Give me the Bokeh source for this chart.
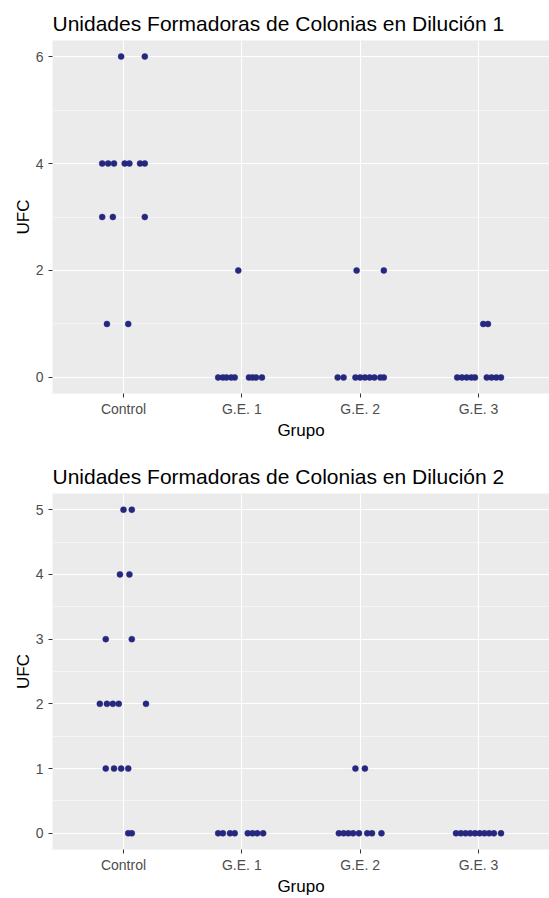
from bokeh.plotting import figure
from bokeh.layouts import column
from bokeh.models import Range1d, FixedTicker, SingleIntervalTicker, ColumnDataSource
from bokeh.embed import file_html
from bokeh.resources import INLINE

categories = ["Control", "G.E. 1", "G.E. 2", "G.E. 3"]

# Dilución 1: group index, UFC value, horizontal jitter
d1_group = [0, 0,
            0, 0, 0, 0, 0, 0, 0,
            0, 0, 0,
            0, 0,
            1,
            1, 1, 1, 1, 1, 1, 1, 1, 1,
            2, 2,
            2, 2, 2, 2, 2, 2, 2, 2, 2,
            3, 3,
            3, 3, 3, 3, 3, 3, 3, 3, 3]
d1_ufc = [6, 6,
          4, 4, 4, 4, 4, 4, 4,
          3, 3, 3,
          1, 1,
          2,
          0, 0, 0, 0, 0, 0, 0, 0, 0,
          2, 2,
          0, 0, 0, 0, 0, 0, 0, 0, 0,
          1, 1,
          0, 0, 0, 0, 0, 0, 0, 0, 0]
d1_jitter = [-0.02, 0.18,
             -0.18, -0.13, -0.08, 0.01, 0.05, 0.14, 0.18,
             -0.18, -0.09, 0.18,
             -0.14, 0.04,
             -0.03,
             -0.20, -0.16, -0.13, -0.09, -0.06, 0.06, 0.09, 0.12, 0.17,
             -0.03, 0.20,
             -0.19, -0.14, -0.04, 0.00, 0.04, 0.08, 0.12, 0.17, 0.20,
             0.04, 0.08,
             -0.18, -0.14, -0.10, -0.06, -0.03, 0.07, 0.11, 0.15, 0.19]

# Dilución 2
d2_group = [0, 0,
            0, 0,
            0, 0,
            0, 0, 0, 0, 0,
            0, 0, 0, 0,
            0, 0,
            1, 1, 1, 1, 1, 1, 1, 1,
            2, 2,
            2, 2, 2, 2, 2, 2, 2, 2,
            3, 3, 3, 3, 3, 3, 3, 3, 3, 3]
d2_ufc = [5, 5,
          4, 4,
          3, 3,
          2, 2, 2, 2, 2,
          1, 1, 1, 1,
          0, 0,
          0, 0, 0, 0, 0, 0, 0, 0,
          1, 1,
          0, 0, 0, 0, 0, 0, 0, 0,
          0, 0, 0, 0, 0, 0, 0, 0, 0, 0]
d2_jitter = [0.00, 0.07,
             -0.03, 0.05,
             -0.15, 0.07,
             -0.20, -0.14, -0.09, -0.04, 0.19,
             -0.15, -0.08, -0.02, 0.04,
             0.04, 0.07,
             -0.20, -0.16, -0.10, -0.06, 0.05, 0.09, 0.13, 0.18,
             -0.04, 0.04,
             -0.18, -0.14, -0.10, -0.06, -0.01, 0.06, 0.10, 0.18,
             -0.19, -0.15, -0.11, -0.07, -0.03, 0.01, 0.05, 0.09, 0.13, 0.19]

titles = ["Unidades Formadoras de Colonias en Dilución 1",
          "Unidades Formadoras de Colonias en Dilución 2"]

FONT = "Liberation Sans"
PT_COLOR = "#25287e"


def make_panel(title, groups, ufc, jitter, ymax, yinterval, height, top, bottom):
    p = figure(width=549, height=height, output_backend="svg", toolbar_location=None,
               x_range=Range1d(0.4, 4.6), y_range=Range1d(-0.05 * ymax, ymax * 1.05),
               min_border_left=52, min_border_right=0, min_border_top=top,
               min_border_bottom=bottom, title=title)
    p.title.text_font = FONT
    p.title.text_font_size = "21px"
    p.title.text_font_style = "normal"
    p.title.text_color = "black"
    p.title.align = "left"
    p.title.standoff = 11
    p.background_fill_color = "#EBEBEB"
    p.border_fill_color = "white"
    p.outline_line_color = None

    xs = [g + 1 + j for g, j in zip(groups, jitter)]
    src = ColumnDataSource(dict(x=xs, y=ufc))
    p.scatter("x", "y", source=src, size=6, fill_color=PT_COLOR, line_color=PT_COLOR, line_width=0.5)

    p.xaxis.ticker = FixedTicker(ticks=[1, 2, 3, 4])
    p.xaxis.major_label_overrides = {i + 1: c for i, c in enumerate(categories)}
    p.yaxis.ticker = SingleIntervalTicker(interval=yinterval, num_minor_ticks=2)

    for ax in (p.xaxis, p.yaxis):
        ax.axis_line_color = None
        ax.major_tick_line_color = "#333333"
        ax.major_tick_out = 4
        ax.major_tick_in = 0
        ax.minor_tick_line_color = None
        ax.major_label_text_font = FONT
        ax.major_label_text_font_size = "14px"
        ax.major_label_text_color = "#4D4D4D"
        ax.axis_label_text_font = FONT
        ax.axis_label_text_font_size = "17px"
        ax.axis_label_text_font_style = "normal"
        ax.axis_label_text_color = "black"
    p.xaxis.axis_label = "Grupo"
    p.yaxis.axis_label = "UFC"
    p.xaxis.major_label_standoff = 3
    p.xaxis.axis_label_standoff = 1
    p.yaxis.major_label_standoff = 5
    p.yaxis.axis_label_standoff = 0

    p.xgrid.grid_line_color = "white"
    p.xgrid.grid_line_width = 1.1
    p.ygrid.grid_line_color = "white"
    p.ygrid.grid_line_width = 1.1
    p.ygrid.minor_grid_line_color = "white"
    p.ygrid.minor_grid_line_width = 0.5
    return p


p1 = make_panel(titles[0], d1_group, d1_ufc, d1_jitter, 6, 2, 457, 40, 64)
p2 = make_panel(titles[1], d2_group, d2_ufc, d2_jitter, 5, 1, 441, 36, 46)

layout = column(p1, p2, spacing=0)
open("out.html", "w").write(file_html(layout, INLINE))
